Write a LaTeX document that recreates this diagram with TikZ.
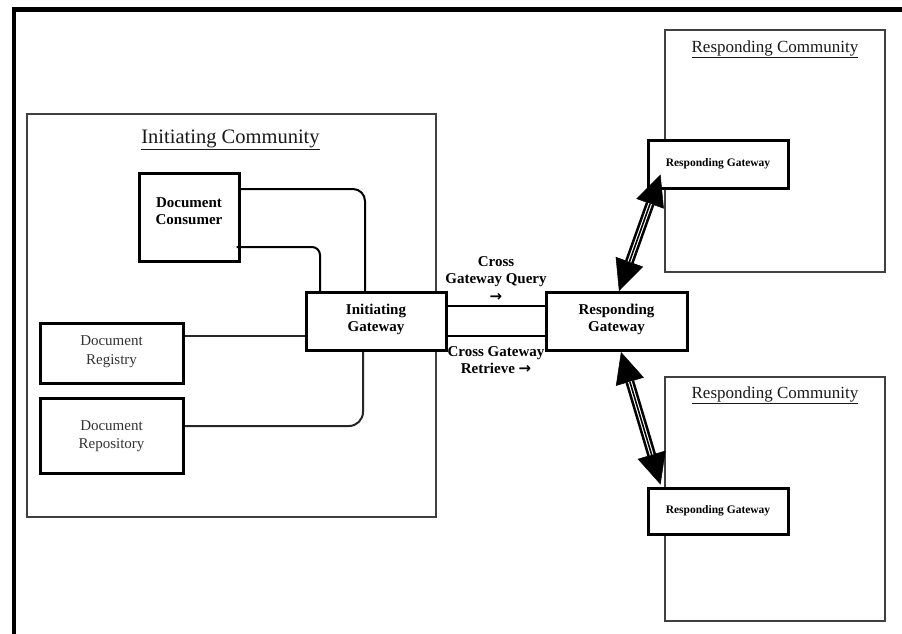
\documentclass[tikz,border=0pt]{standalone}
\usepackage{fontspec}
\setmainfont{Liberation Serif}
\newfontfamily\arrowfont{DejaVu Sans}
\usetikzlibrary{arrows.meta,calc}
\begin{document}
\begin{tikzpicture}[x=1pt,y=-1pt,
  comm/.style={draw=black!75, line width=1.1pt, inner sep=0pt},
  box/.style={draw=black, line width=3pt, fill=white, inner sep=0pt},
  lbl/.style={font=\bfseries\fontsize{15}{17.5}\selectfont, align=center, inner sep=0pt},
  lblreg/.style={font=\fontsize{15}{18.5}\selectfont, align=center, inner sep=0pt, text=black!80},
  smalllbl/.style={font=\bfseries\fontsize{11.5}{13}\selectfont, inner sep=0pt},
  ctitle/.style={inner sep=0pt, anchor=base, text=black!90},
  conn/.style={draw=black!85, line width=2pt},
  gconn/.style={draw=black, line width=2.6pt},
  bigarrow/.style={line width=9pt, {Triangle[length=31pt,width=29pt,line width=0.5pt]}-{Triangle[length=31pt,width=29pt,line width=0.5pt]}},
  arrwhite/.style={draw=white, line width=3.8pt, shorten <=31pt, shorten >=31pt},
  arrcore/.style={draw=black, line width=1.6pt, shorten <=31pt, shorten >=31pt}
]
\useasboundingbox (0,0) rectangle (902,633);
\fill[white] (0,0) rectangle (902,633);

% outer frame
\draw[line width=4pt] (13.7,640) -- (13.7,7.5);
\draw[line width=5.5pt] (11.7,9.5) -- (910,9.5);

% communities
\node[comm, minimum width=409pt, minimum height=403pt] (initC) at (231.5,315.5) {};
\node[ctitle, font=\fontsize{20.5}{24}\selectfont] (initT) at (230.5,143) {\underline{Initiating Community}};
\node[comm, minimum width=220pt, minimum height=242pt] (respC1) at (775,151) {};
\node[ctitle, font=\fontsize{17}{20}\selectfont] (respT1) at (775,52) {\underline{Responding Community}};
\node[comm, minimum width=220pt, minimum height=244pt] (respC2) at (775,499) {};
\node[ctitle, font=\fontsize{17}{20}\selectfont] (respT2) at (775,398) {\underline{Responding Community}};

% boxes
\node[box, minimum width=100pt, minimum height=88pt] (cons) at (189,217) {};
\node[lbl] (consT) at (189,211) {Document\\Consumer};
\node[box, minimum width=143pt, minimum height=60pt] (reg) at (111.5,353) {};
\node[lblreg] (regT) at (111.5,351.5) {Document\\Registry};
\node[box, minimum width=143pt, minimum height=75pt] (repo) at (111.5,435.5) {};
\node[lblreg] (repoT) at (111.5,436) {Document\\Repository};

% connectors inside initiating community (drawn before gateway box)
\coordinate (igN) at (376,292.5);
\coordinate (igS) at (376,350.5);
\coordinate (igW) at (306,321.5);
\draw[conn, draw=black, rounded corners=12pt] ($(cons.east)+(0,-28)$) -| ($(igN)+(-11,0)$);
\draw[conn, draw=black, rounded corners=8pt] ($(cons.east)+(-4,30)$) -| ($(igN)+(-56,0)$);
\draw[conn] ($(reg.east)+(0,-17)$) -- ($(igW)+(0,14.5)$);
\draw[conn, rounded corners=14pt] ($(igS)+(-13,0)$) |- ($(repo.east)+(0,-9.5)$);

% gateways
\node[box, minimum width=140pt, minimum height=58pt] (ig) at (376,321.5) {};
\node[lbl, text height=10.5pt] (igT) at (376,328) {Initiating\\Gateway};
\node[box, minimum width=141pt, minimum height=58pt] (rg) at (616.5,321.5) {};
\node[lbl, text height=10.5pt] (rgT) at (616.5,328) {Responding\\Gateway};
\node[box, minimum width=140pt, minimum height=48pt] (rgtop) at (718,164) {};
\node[smalllbl] (rgtopT) at (718,164) {Responding Gateway};
\node[box, minimum width=140pt, minimum height=46pt] (rgbot) at (718,511) {};
\node[smalllbl] (rgbotT) at (718,511) {Responding Gateway};

% gateway to gateway lines
\draw[gconn] ($(ig.east)+(0,-15.5)$) -- ($(rg.west)+(0,-15.5)$);
\draw[gconn] ($(ig.east)+(0,14.5)$) -- ($(rg.west)+(0,14.5)$);

% labels
\node[lbl, anchor=north] (qT) at (496,256) {Cross\\Gateway Query\\{\arrowfont\fontsize{15}{14}\selectfont\bfseries →}};
\node[lbl, anchor=north] (rT) at (496,346) {Cross Gateway\\Retrieve {\arrowfont\fontsize{15}{14}\selectfont\bfseries →}};

% big double arrows
\coordinate (a1) at ($(rg.north)+(2.5,0)$);
\coordinate (b1) at ($(rgtop.south west)+(14,-15)$);
\coordinate (a2) at ($(rg.south)+(4.5,0)$);
\coordinate (b2) at ($(rgbot.north west)+(14,-2)$);
\draw[bigarrow] (a1) -- (b1);
\draw[arrwhite] (a1) -- (b1);
\draw[arrcore] (a1) -- (b1);
\draw[bigarrow] (a2) -- (b2);
\draw[arrwhite] (a2) -- (b2);
\draw[arrcore] (a2) -- (b2);
\end{tikzpicture}
\end{document}
